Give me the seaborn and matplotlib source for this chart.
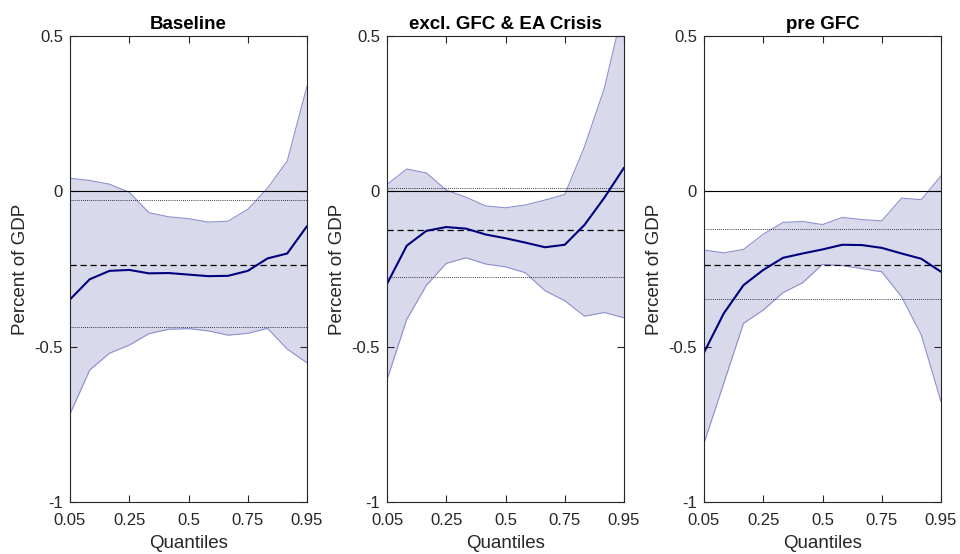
import numpy as np
import pandas as pd
import matplotlib
matplotlib.use("Agg")
import matplotlib.pyplot as plt
import seaborn as sns

# ---- data ----
quantile_labels = ["0.05", "0.25", "0.5", "0.75", "0.95"]
n_points = 13
titles = ["Baseline", "excl. GFC & EA Crisis", "pre GFC"]

baseline_mid = [-0.348, -0.283, -0.256, -0.253, -0.264, -0.263, -0.268, -0.273, -0.272, -0.256, -0.216, -0.200, -0.112]
baseline_up = [0.042, 0.035, 0.023, -0.003, -0.069, -0.082, -0.088, -0.099, -0.096, -0.058, 0.010, 0.098, 0.339]
baseline_lo = [-0.717, -0.575, -0.521, -0.495, -0.458, -0.444, -0.442, -0.449, -0.463, -0.457, -0.441, -0.508, -0.552]
baseline_avg = -0.238
baseline_avg_up = -0.029
baseline_avg_lo = -0.436

excl_mid = [-0.298, -0.175, -0.127, -0.115, -0.120, -0.139, -0.151, -0.165, -0.180, -0.172, -0.108, -0.021, 0.076]
excl_up = [0.022, 0.072, 0.059, 0.004, -0.019, -0.047, -0.053, -0.044, -0.028, -0.010, 0.144, 0.331, 0.600]
excl_lo = [-0.607, -0.412, -0.302, -0.232, -0.214, -0.234, -0.243, -0.262, -0.320, -0.352, -0.402, -0.390, -0.407]
excl_avg = -0.125
excl_avg_up = 0.012
excl_avg_lo = -0.277

pre_mid = [-0.519, -0.393, -0.302, -0.253, -0.214, -0.200, -0.187, -0.172, -0.173, -0.182, -0.200, -0.217, -0.259]
pre_up = [-0.189, -0.198, -0.187, -0.138, -0.100, -0.097, -0.107, -0.084, -0.091, -0.095, -0.022, -0.027, 0.050]
pre_lo = [-0.811, -0.618, -0.425, -0.382, -0.326, -0.294, -0.235, -0.239, -0.249, -0.259, -0.339, -0.462, -0.677]
pre_avg = -0.238
pre_avg_up = -0.121
pre_avg_lo = -0.348

y_ticks = [-1, -0.5, 0, 0.5]
y_tick_labels = ["-1", "-0.5", "0", "0.5"]

panels = [
    (baseline_mid, baseline_up, baseline_lo, baseline_avg, baseline_avg_up, baseline_avg_lo),
    (excl_mid, excl_up, excl_lo, excl_avg, excl_avg_up, excl_avg_lo),
    (pre_mid, pre_up, pre_lo, pre_avg, pre_avg_up, pre_avg_lo),
]

# ---- style ----
sns.set_theme(style="white")
plt.rcParams["font.family"] = ["Liberation Sans", "DejaVu Sans"]
plt.rcParams.update({
    "axes.edgecolor": "#262626",
    "axes.linewidth": 0.8,
    "axes.axisbelow": False,
    "xtick.direction": "in",
    "ytick.direction": "in",
    "xtick.bottom": True,
    "xtick.top": True,
    "ytick.left": True,
    "ytick.right": True,
    "xtick.major.size": 5,
    "ytick.major.size": 5,
    "xtick.major.width": 0.8,
    "ytick.major.width": 0.8,
})

fill_col = "#d8d9ea"
edge_col = "#8d90d0"
line_col = "#00007f"
text_col = "#262626"

fig = plt.figure(figsize=(9.6, 5.54), dpi=100)
lefts = [70, 387, 704]
W, H = 960, 554
ax_w = 237
ax_top, ax_bot = 36, 502

x = np.arange(n_points)
tick_pos = [0, 3, 6, 9, 12]

for i, (mid, up, lo, avg, avg_up, avg_lo) in enumerate(panels):
    ax = fig.add_axes([lefts[i] / W, 1 - ax_bot / H, ax_w / W, (ax_bot - ax_top) / H])
    ax.set_axisbelow(False)
    df = pd.DataFrame({"q": x, "mid": mid, "up": up, "lo": lo})
    ax.fill_between(df["q"], df["lo"], df["up"], color=fill_col, linewidth=0, zorder=1)
    sns.lineplot(data=df, x="q", y="up", ax=ax, color=edge_col, linewidth=0.8, zorder=2)
    sns.lineplot(data=df, x="q", y="lo", ax=ax, color=edge_col, linewidth=0.8, zorder=2)
    ax.axhline(0, color="black", linewidth=0.8, zorder=3)
    ax.axhline(avg, color="black", linewidth=0.9, linestyle=(0, (5, 3)), zorder=3)
    ax.axhline(avg_up, color="black", linewidth=0.6, linestyle=(0, (1, 1.5)), zorder=3)
    ax.axhline(avg_lo, color="black", linewidth=0.6, linestyle=(0, (1, 1.5)), zorder=3)
    sns.lineplot(data=df, x="q", y="mid", ax=ax, color=line_col, linewidth=1.5, zorder=4)

    ax.set_xlim(0, n_points - 1)
    ax.set_ylim(-1, 0.5)
    ax.set_xticks(tick_pos)
    ax.set_xticklabels(quantile_labels)
    ax.set_yticks(y_ticks)
    ax.set_yticklabels(y_tick_labels)
    ax.tick_params(axis="both", which="major", labelsize=12, colors=text_col,
                   direction="in", length=5, width=0.8,
                   bottom=True, left=True, top=True, right=True)
    ax.tick_params(axis="x", pad=8)
    ax.tick_params(axis="y", pad=5)
    for lab in ax.get_xticklabels() + ax.get_yticklabels():
        lab.set_color(text_col)
    ax.set_xlabel("Quantiles", fontsize=13.5, color=text_col, labelpad=5)
    ax.set_ylabel("Percent of GDP", fontsize=13.5, color=text_col, labelpad=4)
    ax.set_title(titles[i], fontsize=13.5, fontweight="bold", color="black", pad=5)
    for s in ax.spines.values():
        s.set_visible(True)
        s.set_color(text_col)
        s.set_zorder(5)
    ax.set_facecolor("white")

fig.savefig("out.png", dpi=100)
